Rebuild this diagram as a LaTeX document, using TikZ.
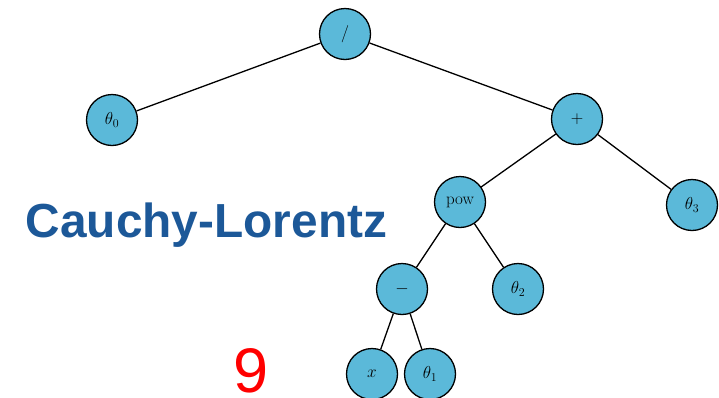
\documentclass[tikz,border=0pt]{standalone}
\usepackage{fontspec}
\newfontfamily\labelfont{Liberation Sans}
\definecolor{nodefill}{RGB}{91,185,217}
\definecolor{titleblue}{RGB}{28,88,152}
\begin{document}
\begin{tikzpicture}[x=1pt,y=-1pt,
  tnode/.style={circle,draw=black,line width=1.3pt,fill=nodefill,minimum size=51pt,inner sep=0pt,font=\fontsize{17}{20}\selectfont},
  edge/.style={line width=1.3pt,draw=black}]
\useasboundingbox (0,0) rectangle (719,397);
\node[tnode] (div) at (345,34) {$/$};
\node[tnode] (t0) at (112,120) {$\theta_0$};
\node[tnode] (plus) at (577,119) {$+$};
\node[tnode] (pow) at (460,202) {pow};
\node[tnode] (t3) at (692,205) {$\theta_3$};
\node[tnode] (minus) at (402,289) {$-$};
\node[tnode] (t2) at (518,289) {$\theta_2$};
\node[tnode] (x) at (372,374) {$x$};
\node[tnode] (t1) at (430,374) {$\theta_1$};
\draw[edge] (div) -- (t0);
\draw[edge] (div) -- (plus);
\draw[edge] (plus) -- (pow);
\draw[edge] (plus) -- (t3);
\draw[edge] (pow) -- (minus);
\draw[edge] (pow) -- (t2);
\draw[edge] (minus) -- (x);
\draw[edge] (minus) -- (t1);
\node[anchor=base,inner sep=0pt,text=titleblue,font=\labelfont\bfseries\fontsize{47.8}{50}\selectfont] (title) at (206.5,237) {Cauchy-Lorentz};
\node[anchor=base,inner sep=0pt,text=red,font=\labelfont\fontsize{63}{66}\selectfont] (nine) at (251,392) {9};
\end{tikzpicture}
\end{document}
